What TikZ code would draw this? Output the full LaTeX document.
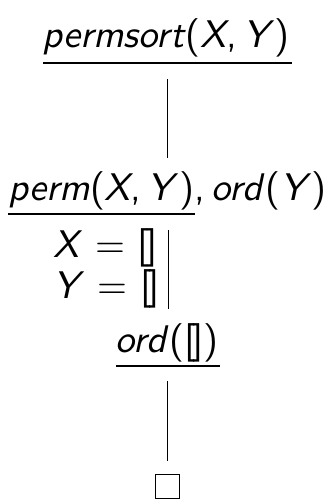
\documentclass[tikz,border=0pt]{standalone}
\usepackage{amssymb}
\newcommand\skl[1]{\scalebox{3.85}{\sffamily #1}}
\newcommand\vX{\textit{X}}
\newcommand\vY{\textit{Y}}
\newcommand\nil{[\kern-0.07em]}
\begin{document}
\begin{tikzpicture}[x=1pt,y=-1pt,
  lbl/.style={inner sep=0pt},
  rulel/.style={line width=1.1pt},
  conn/.style={line width=0.9pt},
  qed/.style={draw, line width=1.1pt, minimum width=24pt, minimum height=24pt, inner sep=0pt}]
\useasboundingbox (0,0) rectangle (329,500);
% goal 1
\node[lbl, anchor=base] (g1) at (166,48) {\skl{\textit{permsort}(\vX,\,\vY)}};
\coordinate (u1l) at (43,63); \coordinate (u1r) at (292,63);
\draw[rulel] (u1l) -- (u1r);
\coordinate (a1) at (167,79); \coordinate (a2) at (167,158);
\draw[conn] (a1) -- (a2);
% goal 2
\node[lbl, anchor=base west] (g2a) at (8,200) {\skl{\textit{perm}(\vX,\,\vY)}};
\node[lbl, anchor=base west] (g2b) at (g2a.base east) {\skl{,\,\textit{ord}(\vY)}};
\coordinate (u2l) at (8,214); \coordinate (u2r) at (195,214);
\draw[rulel] (u2l) -- (u2r);
% substitution
\node[lbl, anchor=base west] (s1) at (53,257) {\skl{\vX\ =\ \nil}};
\node[lbl, anchor=base west] (s2) at (53,298) {\skl{\vY\ =\ \nil}};
\coordinate (b1) at (168,230); \coordinate (b2) at (168,309);
\draw[conn] (b1) -- (b2);
% goal 3
\node[lbl, anchor=base] (g3) at (167,352) {\skl{\textit{ord}(\nil)}};
\coordinate (u3l) at (116,366); \coordinate (u3r) at (220,366);
\draw[rulel] (u3l) -- (u3r);
\coordinate (c1) at (167,381); \coordinate (c2) at (167,461);
\draw[conn] (c1) -- (c2);
% empty clause
\node[qed] (e) at (167.5,486.5) {};
\end{tikzpicture}
\end{document}
